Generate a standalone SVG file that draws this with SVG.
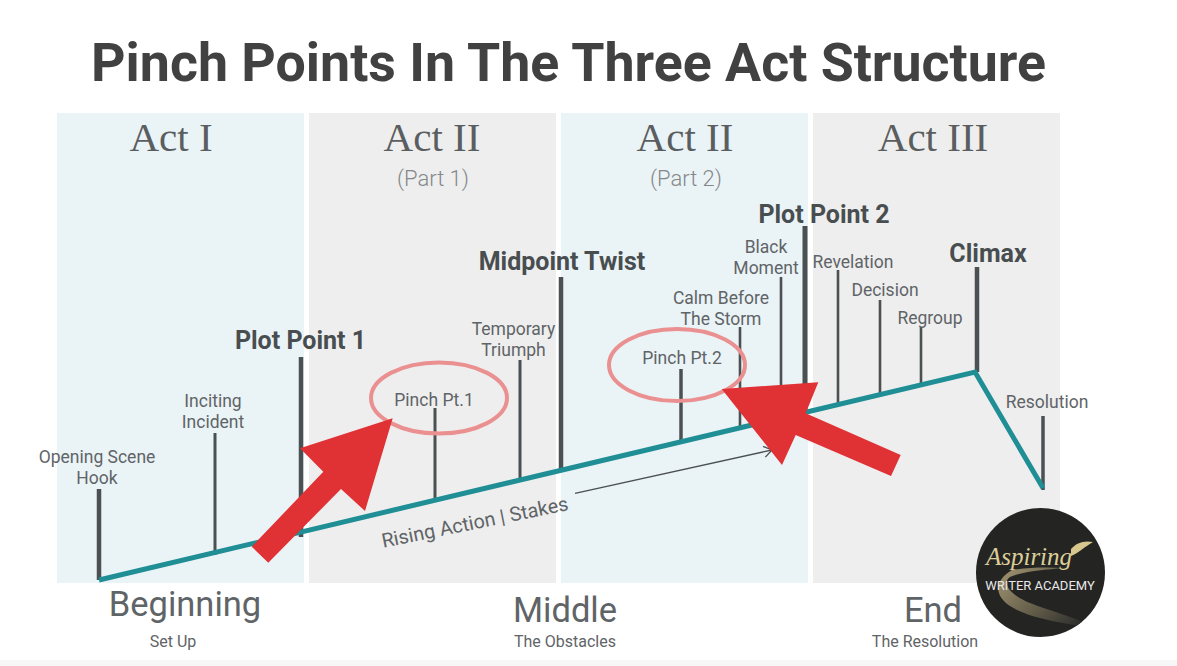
<svg xmlns="http://www.w3.org/2000/svg" width="1177" height="666" viewBox="0 0 1177 666">
<defs>
<linearGradient id="swoosh" x1="0" y1="0" x2="1" y2="0.6"><stop offset="0" stop-color="#a39672"/><stop offset="0.6" stop-color="#5f5947"/><stop offset="1" stop-color="#2f2f2c"/></linearGradient>
<clipPath id="disc"><circle cx="1040.500" cy="572.500" r="64.500"/></clipPath>
<marker id="open" markerWidth="14" markerHeight="14" refX="10" refY="6" orient="auto" markerUnits="userSpaceOnUse"><path d="M2 0.500L10 6L2 11.500" fill="none" stroke="#4a4f52" stroke-width="1.3"/></marker>
</defs>
<style>
text{font-family:Roboto,"Liberation Sans",sans-serif;fill:#5f6467;text-anchor:middle}
.act{font-family:"Liberation Serif",serif;font-size:41px;fill:#5a5e60}
.part{font-size:22px;font-weight:300;fill:#85888a}
.big{font-size:25px;font-weight:700;fill:#484d50}
.lab{font-size:17.500px}
.sec{font-size:34.500px}
.sub{font-size:16px}
.t{stroke:#4b5053;stroke-width:2.6;fill:none}
.m{stroke:#4b5053;stroke-width:4.5;fill:none}
.ring{fill:none;stroke:#eb9091;stroke-width:4}
.red{fill:#e03134}
</style>
<rect width="1177" height="666" fill="#fff"/>
<rect y="660" width="1177" height="6" fill="#f7f7f7"/>
<text id="title" x="568.500" y="81" style="font-size:53.700px;font-weight:700;fill:#414141">Pinch Points In The Three Act Structure</text>
<g id="bands">
<rect x="57" y="113" width="247" height="470" fill="#eaf3f6"/>
<rect x="309" y="113" width="247" height="470" fill="#eeeeee"/>
<rect x="561" y="113" width="247" height="470" fill="#eaf3f6"/>
<rect x="813" y="113" width="247" height="470" fill="#eeeeee"/>
<text class="act" x="171" y="151">Act I</text>
<text class="act" x="432" y="151">Act II</text>
<text class="part" x="433" y="186">(Part 1)</text>
<text class="act" x="685" y="151">Act II</text>
<text class="part" x="686" y="186">(Part 2)</text>
<text class="act" x="933" y="151">Act III</text>
</g>
<g id="connectors">
<path class="m" d="M99 489V580"/>
<path class="t" d="M215 433V555" style="stroke-width:3"/>
<path class="m" d="M301 357V537"/>
<path class="t" d="M435 408V501" style="stroke-width:3"/>
<path class="t" d="M520 360V481" style="stroke-width:3"/>
<path class="m" d="M561 277V472"/>
<path class="t" d="M681 369V442" style="stroke-width:3.500"/>
<path class="t" d="M740 327V430"/>
<path class="t" d="M781 277V385"/>
<path class="m" d="M805 226V410" style="stroke-width:5"/>
<path class="t" d="M838 270V405"/>
<path class="t" d="M880 300V397"/>
<path class="t" d="M921 327V387"/>
<path class="m" d="M977 267V372"/>
<path class="t" d="M1043 416V490" style="stroke-width:3.500"/>
<path d="M99 580L975 372L1043 488" fill="none" stroke="#1f8e95" stroke-width="5"/>
<path d="M575 493.300L772 450" fill="none" stroke="#4a4f52" stroke-width="1.300" marker-end="url(#open)"/>
</g>
<g id="labels">
<text class="lab" x="97" y="463">Opening Scene</text><text class="lab" x="97" y="484">Hook</text>
<text class="lab" x="213" y="406.500">Inciting</text><text class="lab" x="213" y="427.500">Incident</text>
<text class="big" x="300.500" y="349">Plot Point 1</text>
<text class="lab" x="513.500" y="335">Temporary</text><text class="lab" x="513.500" y="356">Triumph</text>
<text class="big" x="562" y="270">Midpoint Twist</text>
<text class="lab" x="721" y="304">Calm Before</text><text class="lab" x="721" y="325">The Storm</text>
<text class="lab" x="766" y="252.500">Black</text><text class="lab" x="766" y="273.500">Moment</text>
<text class="big" x="824" y="223">Plot Point 2</text>
<text class="lab" x="853" y="267.500">Revelation</text>
<text class="lab" x="885" y="296">Decision</text>
<text class="lab" x="930" y="323.500">Regroup</text>
<text class="big" x="988" y="262">Climax</text>
<text class="lab" x="1047" y="407.500">Resolution</text>
<text x="475" y="529" transform="rotate(-11.500 475 523)" style="font-size:19.800px">Rising Action | Stakes</text>
</g>
<g id="pinch1">
<ellipse class="ring" cx="439" cy="398" rx="68" ry="35.500"/>
<text class="lab" x="434" y="406">Pinch Pt.1</text>
</g>
<g id="pinch2">
<ellipse class="ring" cx="677" cy="365" rx="68" ry="36"/>
<text class="lab" x="682" y="363.500">Pinch Pt.2</text>
</g>
<g id="arrow1"><path class="red" d="M392.700 418.300L300 448.300L323.300 471.700L251.700 546.700L268.300 562.700L341 489L365 511Z"/></g>
<g id="arrow2"><path class="red" d="M721.700 389L818.300 382.300L805.700 413.300L900.700 455L891 476L795.700 435L782 465Z"/></g>
<g id="sections">
<text class="sec" x="185" y="616">Beginning</text><text class="sub" x="173" y="647">Set Up</text>
<text class="sec" x="565" y="622">Middle</text><text class="sub" x="565" y="647">The Obstacles</text>
<text class="sec" x="933" y="622">End</text><text class="sub" x="925" y="647">The Resolution</text>
</g>
<g id="logo">
<circle cx="1040.500" cy="572.500" r="64.500" fill="#242523"/>
<g clip-path="url(#disc)">
<path d="M1012 570C1030 567 1048 567 1064 568C1044 570 1024 571 1010 577C1000 584 1014 597 1030 603C1050 611 1075 617 1098 629C1065 623 1030 619 1010 606C996 597 992 582 1012 570Z" fill="url(#swoosh)"/>
</g>
<path d="M1071 556C1079 553 1084 547 1093 542C1084 540 1076 543 1071 549Z" fill="#d8c68f"/>
<text x="1029" y="565" style="font-family:'Liberation Serif',serif;font-style:italic;font-size:25px;fill:#ddcd98">Aspiring</text>
<text x="1040" y="589.500" style="font-size:13px;fill:#e8e8e8">WRITER ACADEMY</text>
</g>
</svg>
